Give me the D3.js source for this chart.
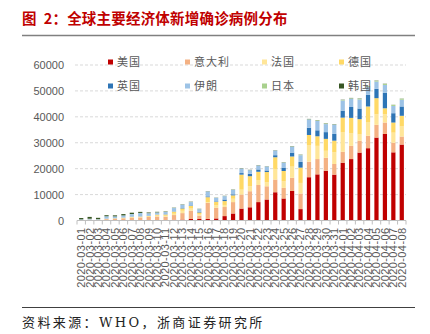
<!DOCTYPE html>
<html>
<head>
<meta charset="utf-8">
<script src="https://cdn.jsdelivr.net/npm/d3@7"></script>
<style>
  body { margin: 0; background: #fff; }
  svg { display: block; }
</style>
</head>
<body>
<div id="chart"></div>
<script>
// daily new confirmed cases by country (WHO reports)
const dates = [
  "2020-03-01", "2020-03-02", "2020-03-03", "2020-03-04", "2020-03-05", "2020-03-06", "2020-03-07",
  "2020-03-08", "2020-03-09", "2020-03-10", "2020-03-11", "2020-03-12", "2020-03-13", "2020-03-14",
  "2020-03-15", "2020-03-16", "2020-03-17", "2020-03-18", "2020-03-19", "2020-03-20", "2020-03-21",
  "2020-03-22", "2020-03-23", "2020-03-24", "2020-03-25", "2020-03-26", "2020-03-27", "2020-03-28",
  "2020-03-29", "2020-03-30", "2020-03-31", "2020-04-01", "2020-04-02", "2020-04-03", "2020-04-04",
  "2020-04-05", "2020-04-06", "2020-04-07", "2020-04-08"
];
const usa = [0, 0, 0, 20, 30, 50, 60, 80, 100, 150, 200, 300, 350, 600, 600, 600, 800, 1700, 2700, 4600,
  5100, 7100, 8100, 10900, 8500, 11400, 4400, 16700, 17800, 19200, 17700, 22300, 23700, 26200, 27900,
  32000, 33400, 26300, 29300];
const italy = [200, 300, 200, 500, 650, 800, 1000, 1100, 1300, 1400, 1300, 1800, 2500, 3200, 1300, 6200,
  4100, 3500, 4400, 5400, 6200, 6600, 5100, 4900, 4100, 5100, 6000, 6000, 5900, 5000, 4100, 4200, 5100,
  4600, 4800, 4900, 4400, 3700, 3100];
const france = [0, 30, 50, 70, 100, 100, 150, 200, 100, 300, 300, 500, 900, 800, 600, 300, 1000, 800, 1300,
  1900, 1900, 1900, 1500, 4100, 2600, 4300, 4100, 6400, 5100, 2700, 4500, 7500, 4800, 2400, 5300, 4100,
  3200, 3900, 3900];
const germany = [20, 30, 50, 100, 100, 150, 200, 150, 250, 400, 500, 800, 900, 1000, 600, 1900, 1300, 1500,
  1300, 5800, 3900, 3200, 4000, 4500, 3900, 3900, 5900, 3900, 3700, 4600, 4500, 5700, 6000, 5900, 6000,
  6200, 2300, 3900, 4100];
const uk = [10, 10, 10, 20, 30, 40, 50, 50, 60, 50, 80, 100, 150, 200, 250, 300, 200, 600, 400, 600, 900,
  900, 600, 800, 1300, 1500, 2200, 2800, 2300, 2600, 2600, 2700, 4200, 4100, 4500, 3600, 6000, 3600, 3600];
const iran = [200, 300, 200, 900, 650, 800, 1000, 1300, 1000, 800, 900, 1300, 1300, 1300, 1000, 1900, 1300,
  1300, 1700, 1700, 1400, 1500, 1500, 1800, 1900, 2300, 2600, 3200, 3600, 3100, 3600, 3900, 3200, 3500,
  3000, 2800, 3000, 2800, 2600];
const japan = [20, 15, 20, 30, 30, 30, 50, 50, 30, 50, 50, 50, 50, 50, 60, 40, 20, 40, 40, 40, 50, 40, 40,
  40, 70, 100, 100, 100, 200, 200, 100, 200, 200, 300, 200, 300, 400, 400, 400];
const korea = [500, 700, 500, 400, 400, 500, 500, 400, 250, 200, 150, 100, 100, 100, 100, 80, 80, 80, 100,
  100, 100, 100, 80, 80, 100, 100, 100, 100, 100, 100, 100, 100, 100, 100, 100, 100, 80, 50, 50];

const countries = ["美国", "意大利", "法国", "德国", "英国", "伊朗", "日本", "韩国"];
const seriesValues = [usa, italy, france, germany, uk, iran, japan, korea];
const colors = ["#c00000", "#f4b183", "#ffe699", "#ffd966", "#2e75b6", "#9dc3e6", "#a9d18e", "#375623"];
const yTicks = [0, 10000, 20000, 30000, 40000, 50000, 60000];

const width = 430, height = 334;
const plot = { left: 77, right: 406, top: 65, bottom: 220.5 };

const svg = d3.select("#chart").append("svg")
    .attr("width", width)
    .attr("height", height);

// title and rules
svg.append("text")
    .attr("x", 22)
    .attr("y", 24)
    .attr("xml:space", "preserve")
    .style("font-family", "'Noto Sans CJK SC', sans-serif")
    .style("font-size", "14.5px")
    .style("font-weight", "bold")
    .style("letter-spacing", "0.2px")
    .style("white-space", "pre")
    .style("fill", "#c00000")
    .text("图  2：全球主要经济体新增确诊病例分布");

svg.append("line")
    .attr("x1", 22).attr("x2", 415)
    .attr("y1", 35.5).attr("y2", 35.5)
    .attr("stroke", "#808080")
    .attr("stroke-width", 1.5);

svg.append("line")
    .attr("x1", 22).attr("x2", 415)
    .attr("y1", 307.5).attr("y2", 307.5)
    .attr("stroke", "#404040")
    .attr("stroke-width", 1);

svg.append("text")
    .attr("x", 22)
    .attr("y", 327)
    .style("font-family", "'DejaVu Serif', 'Noto Sans CJK SC', serif")
    .style("font-size", "13px")
    .style("letter-spacing", "2.4px")
    .style("fill", "#222")
    .text("资料来源：WHO，浙商证券研究所");

// scales
const x = d3.scaleBand()
    .domain(dates)
    .range([plot.left, plot.right])
    .paddingInner(0.5)
    .paddingOuter(0.25);

const y = d3.scaleLinear()
    .domain([0, 60000])
    .range([plot.bottom, plot.top]);

// gridlines
svg.append("g")
    .selectAll("line")
    .data(yTicks.slice(1))
    .enter()
    .append("line")
    .attr("x1", plot.left - 2)
    .attr("x2", plot.right)
    .attr("y1", d => y(d))
    .attr("y2", d => y(d))
    .attr("stroke", "#d9d9d9")
    .attr("stroke-dasharray", "3,2");

// y axis labels
const yAxis = svg.append("g")
    .attr("transform", `translate(${plot.left - 13},0)`)
    .call(d3.axisLeft(y).tickValues(yTicks).tickSize(0).tickPadding(0).tickFormat(d3.format("d")));
yAxis.select(".domain").remove();
yAxis.selectAll("text")
    .style("font-family", "'Liberation Sans', Arial, sans-serif")
    .style("font-size", "11px")
    .style("fill", "#595959");

// stacked bars
const rows = dates.map((d, i) => {
    const row = { date: d };
    countries.forEach((c, k) => { row[c] = seriesValues[k][i]; });
    return row;
});
const stacked = d3.stack().keys(countries)(rows);

svg.append("g")
    .selectAll("g")
    .data(stacked)
    .enter()
    .append("g")
    .attr("fill", (d, i) => colors[i])
    .selectAll("rect")
    .data(d => d)
    .enter()
    .append("rect")
    .attr("x", d => x(d.data.date))
    .attr("width", x.bandwidth())
    .attr("y", d => y(d[1]))
    .attr("height", d => y(d[0]) - y(d[1]));

// x axis line and ticks between the days
svg.append("line")
    .attr("x1", plot.left).attr("x2", plot.right)
    .attr("y1", plot.bottom).attr("y2", plot.bottom)
    .attr("stroke", "#bfbfbf");

const gap = (x.step() - x.bandwidth()) / 2;
const tickXs = dates.map(d => x(d) - gap).concat([x(dates[dates.length - 1]) + x.bandwidth() + gap]);
svg.append("g")
    .selectAll("line")
    .data(tickXs)
    .enter()
    .append("line")
    .attr("x1", d => d).attr("x2", d => d)
    .attr("y1", plot.bottom).attr("y2", plot.bottom + 4)
    .attr("stroke", "#bfbfbf");

svg.append("g")
    .selectAll("text")
    .data(dates)
    .enter()
    .append("text")
    .attr("transform", d => `translate(${x(d) + x.bandwidth() / 2},${plot.bottom + 7}) rotate(-90)`)
    .attr("text-anchor", "end")
    .attr("dy", "0.35em")
    .style("font-family", "'Liberation Sans', Arial, sans-serif")
    .style("font-size", "11px")
    .style("letter-spacing", "0.4px")
    .style("fill", "#595959")
    .text(d => d);

// legend, two rows of four
const legend = svg.append("g")
    .selectAll("g")
    .data(countries)
    .enter()
    .append("g")
    .attr("transform", (d, i) => `translate(${108 + (i % 4) * 77},${62 + Math.floor(i / 4) * 24})`);

legend.append("rect")
    .attr("x", 0)
    .attr("y", -2.5)
    .attr("width", 5)
    .attr("height", 5)
    .attr("fill", (d, i) => colors[i]);

legend.append("text")
    .attr("x", 9)
    .attr("dy", "0.38em")
    .style("font-family", "'Noto Sans CJK SC', sans-serif")
    .style("font-size", "11px")
    .style("letter-spacing", "1px")
    .style("fill", "#595959")
    .text(d => d);
</script>
</body>
</html>
